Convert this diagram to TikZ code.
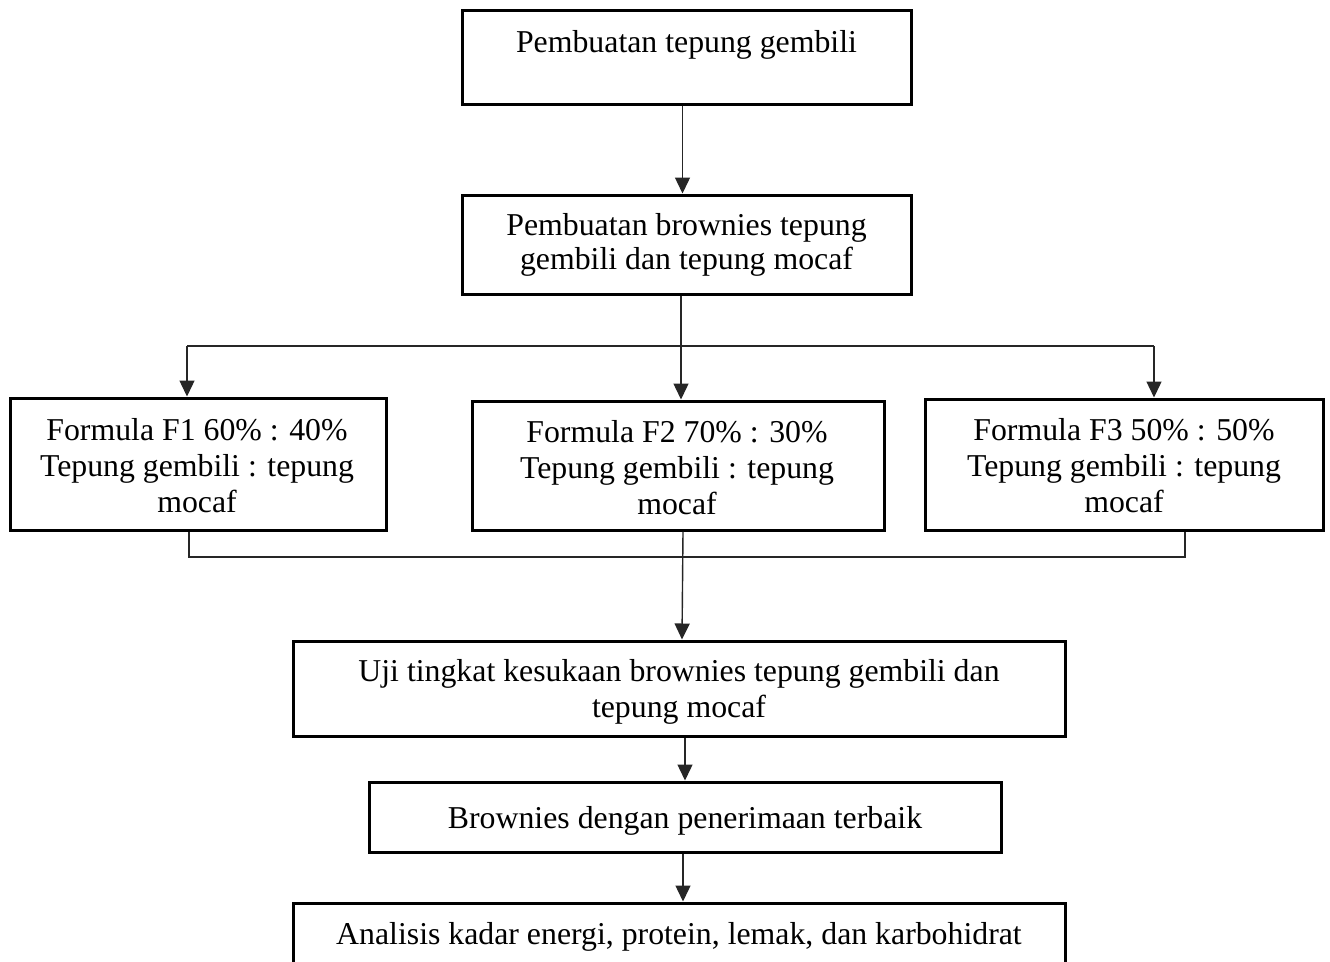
\documentclass[tikz,border=0pt]{standalone}
\usepackage{fontspec}
\setmainfont{Liberation Serif}
\usetikzlibrary{arrows.meta}
\begin{document}
\begin{tikzpicture}[x=1pt,y=-1pt,
  box/.style={draw, line width=3pt, inner sep=0pt, fill=none},
  txt/.style={anchor=base, inner sep=0pt, font=\fontsize{31.8}{36}\selectfont},
  conn/.style={line width=1.4pt, draw=black!85},
  arr/.style={conn, -{Triangle[width=15pt,length=16pt]}}
]
\useasboundingbox (0,0) rectangle (1330,961);
\fill[white] (0,0) rectangle (1330,961);

% boxes
\node[box, minimum width=449pt, minimum height=94pt] (b1) at (686.5,57) {};
\node[box, minimum width=449pt, minimum height=99pt] (b2) at (686.5,244.5) {};
\node[box, minimum width=376pt, minimum height=132pt] (f1) at (198,464) {};
\node[box, minimum width=412pt, minimum height=129pt] (f2) at (678,465.5) {};
\node[box, minimum width=398pt, minimum height=131pt] (f3) at (1124,464.5) {};
\node[box, minimum width=772pt, minimum height=95pt] (uji) at (679,688.5) {};
\node[box, minimum width=632pt, minimum height=70pt] (brw) at (685,817) {};
\node[box, minimum width=772pt, minimum height=74pt] (ana) at (679,940) {};

% texts
\node[txt] (t1) at (686.5,52) {Pembuatan tepung gembili};
\node[txt] (t2a) at (686.5,235) {Pembuatan brownies tepung};
\node[txt] (t2b) at (686.5,269) {gembili dan tepung mocaf};
\node[txt] (tf1a) at (197,440) {Formula F1 60\% : 40\%};
\node[txt] (tf1b) at (197,476) {Tepung gembili : tepung};
\node[txt] (tf1c) at (197,512) {mocaf};
\node[txt] (tf2a) at (677,442) {Formula F2 70\% : 30\%};
\node[txt] (tf2b) at (677,478) {Tepung gembili : tepung};
\node[txt] (tf2c) at (677,514) {mocaf};
\node[txt] (tf3a) at (1124,440) {Formula F3 50\% : 50\%};
\node[txt] (tf3b) at (1124,476) {Tepung gembili : tepung};
\node[txt] (tf3c) at (1124,512) {mocaf};
\node[txt] (tua) at (679,681) {Uji tingkat kesukaan brownies tepung gembili dan};
\node[txt] (tub) at (679,717) {tepung mocaf};
\node[txt] (tbr) at (685,828) {Brownies dengan penerimaan terbaik};
\node[txt] (tan) at (679,944) {Analisis kadar energi, protein, lemak, dan karbohidrat};

% junction coordinates
\coordinate (j1) at (681,346);
\coordinate (jl) at (187,346);
\coordinate (jr) at (1154,346);
\coordinate (kl) at (189,557);
\coordinate (kr) at (1185,557);

% connectors
\draw[arr] ([xshift=-4pt]b1.south) -- ([xshift=-4pt]b2.north);
\draw[conn] (b2.south -| j1) -- (j1);
\draw[conn] (jl) -- (jr);
\draw[arr] (j1) -- (f2.north -| j1);
\draw[arr] (jl) -- (f1.north -| jl);
\draw[arr] (jr) -- (f3.north -| jr);
\draw[conn] (f1.south -| kl) -- (kl) -- (kr) -- (f3.south -| kr);
\draw[arr] ([xshift=5pt]f2.south) -- ([xshift=3pt]uji.north);
\draw[arr] ([xshift=6pt]uji.south) -- (brw.north);
\draw[arr] ([xshift=-2pt]brw.south) -- ([xshift=4pt]ana.north);
\end{tikzpicture}
\end{document}
